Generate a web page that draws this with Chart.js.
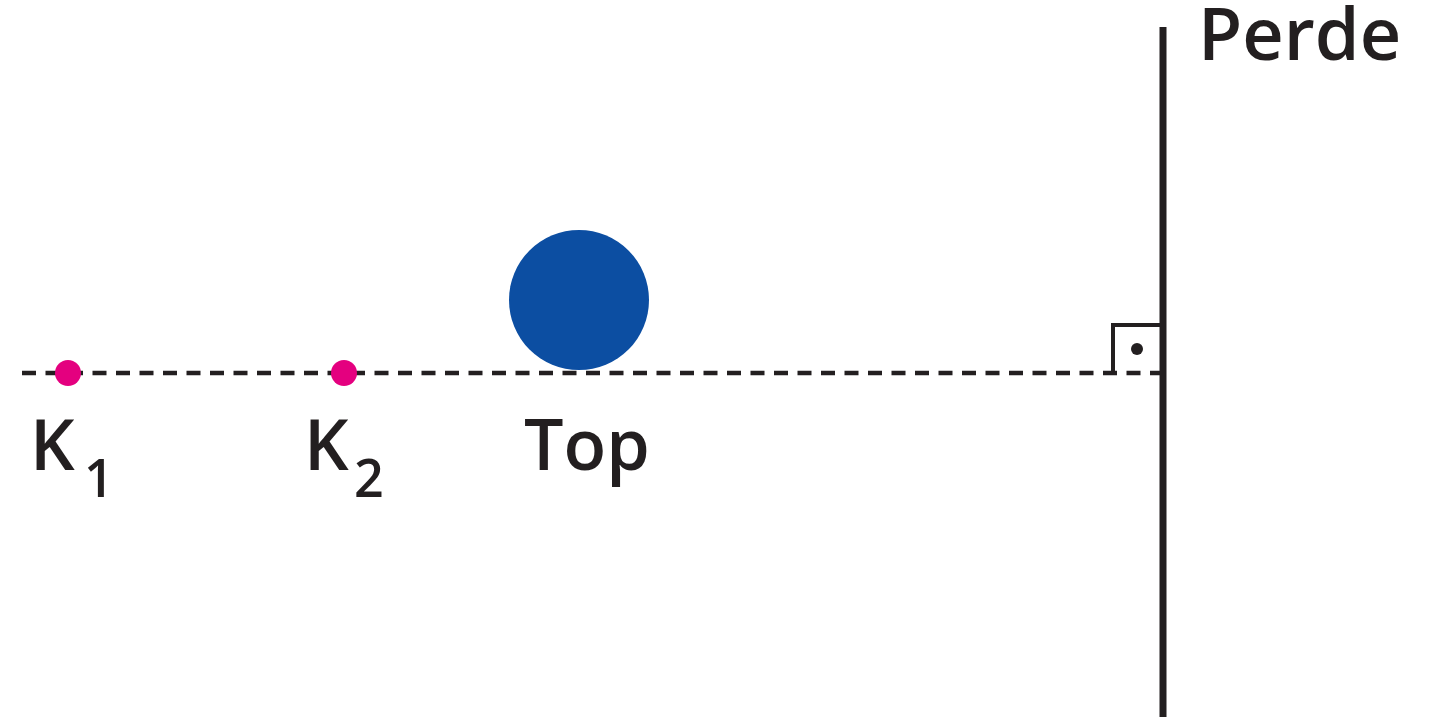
<!DOCTYPE html>
<html>
<head>
<meta charset="utf-8">
<title>Perde</title>
<script src="https://cdn.jsdelivr.net/npm/chart.js@4/dist/chart.umd.min.js"></script>
<style>
  body { margin: 0; background: #fff; }
  #wrap { position: relative; width: 1452px; height: 727px; }
</style>
</head>
<body>
<div id="wrap"><canvas id="myChart"></canvas></div>
<script>
// koordinatlar resim pikselinde (y asagi dogru)
const lineY = 373;
const lineStartX = 22;
const screenX = 1163;
const screenTop = 27;
const screenBottom = 717;

// K noktalari
const pointX = [68, 344];

// top
const ballX = [579];
const ballY = [300];

// dik aci isareti
const squareX = [1113, 1113, 1160];
const squareY = [373, 325, 325];
const dotX = [1137];
const dotY = [349];

// yazilar
const labelText = ['K', 'K', 'Top', 'Perde'];
const labelSub = ['1', '2', '', ''];
const labelX = [30, 304, 524, 1198];
const labelY = [470, 470, 470, 60];
const subX = [84, 354];
const subY = [497, 497];

const ink = '#231f20';
const fontName = ' "Open Sans", "Noto Sans", sans-serif';

const textPlugin = {
  id: 'labels',
  afterDatasetsDraw(chart) {
    const ctx = chart.ctx;
    const sx = chart.scales.x, sy = chart.scales.y;
    ctx.save();
    ctx.fillStyle = ink;
    ctx.textAlign = 'left';
    ctx.textBaseline = 'alphabetic';
    labelText.forEach((t, i) => {
      ctx.font = (i === 3 ? '600 72px' : '600 70px') + fontName;
      ctx.fillText(t, sx.getPixelForValue(labelX[i]), sy.getPixelForValue(labelY[i]));
      if (labelSub[i]) {
        ctx.font = '600 52px' + fontName;
        ctx.fillText(labelSub[i], sx.getPixelForValue(subX[i]), sy.getPixelForValue(subY[i]));
      }
    });
    ctx.restore();
  }
};

var ctx = document.getElementById('myChart').getContext('2d');
var chart = new Chart(ctx, {
  type: 'scatter',
  data: {
    datasets: [
      {
        label: 'K',
        data: pointX.map(x => ({ x: x, y: lineY })),
        backgroundColor: '#e4007f',
        borderWidth: 0,
        pointRadius: 13
      },
      {
        label: 'dot',
        data: dotX.map((x, i) => ({ x: x, y: dotY[i] })),
        backgroundColor: ink,
        borderWidth: 0,
        pointRadius: 6
      },
      {
        label: 'Top',
        data: ballX.map((x, i) => ({ x: x, y: ballY[i] })),
        backgroundColor: '#0c4ea2',
        borderWidth: 0,
        pointRadius: 70
      },
      {
        label: 'square',
        data: squareX.map((x, i) => ({ x: x, y: squareY[i] })),
        showLine: true,
        borderColor: ink,
        borderWidth: 4,
        pointRadius: 0,
        borderJoinStyle: 'miter'
      },
      {
        label: 'Perde',
        data: [{ x: screenX, y: screenTop }, { x: screenX, y: screenBottom }],
        showLine: true,
        borderColor: ink,
        borderWidth: 7,
        pointRadius: 0
      },
      {
        label: 'dashed',
        data: [{ x: lineStartX, y: lineY }, { x: screenX, y: lineY }],
        showLine: true,
        borderColor: ink,
        borderWidth: 4.5,
        borderDash: [14, 9.5],
        pointRadius: 0
      }
    ]
  },
  options: {
    responsive: true,
    maintainAspectRatio: false,
    animation: false,
    layout: { padding: 0, autoPadding: false },
    clip: false,
    plugins: { legend: { display: false }, tooltip: { enabled: false } },
    scales: {
      x: { type: 'linear', min: 0, max: 1452, display: false },
      y: { type: 'linear', min: 0, max: 727, reverse: true, display: false }
    }
  },
  plugins: [textPlugin]
});
</script>
</body>
</html>
